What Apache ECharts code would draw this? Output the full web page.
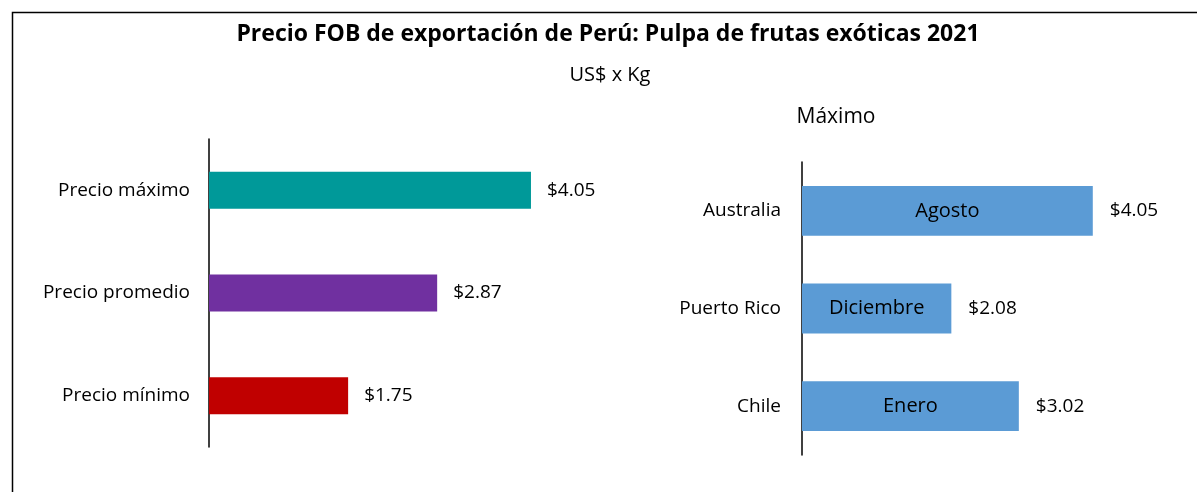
<!DOCTYPE html>
<html>
<head>
<meta charset="utf-8">
<script src="https://cdn.jsdelivr.net/npm/echarts@6/dist/echarts.min.js"></script>
<style>
  html, body { margin: 0; padding: 0; background: #fff; }
  #chart { width: 1197px; height: 492px; }
</style>
</head>
<body>
<div id="chart"></div>
<script>
// precios generales
const priceCats = ['Precio máximo', 'Precio promedio', 'Precio mínimo']
const priceVals = [4.05, 2.87, 1.75]
const priceColors = ['#009999', '#7030A0', '#C00000']
// máximo por país
const countryCats = ['Australia', 'Puerto Rico', 'Chile']
const countryVals = [4.05, 2.08, 3.02]
const countryMonths = ['Agosto', 'Diciembre', 'Enero']

const font = '"Open Sans", Lato, sans-serif'
const money = v => '$' + v.toFixed(2)

const myChart = echarts.init(document.getElementById('chart'), null, { renderer: 'canvas' })

const option = {
  animation: false,
  textStyle: { fontFamily: font },
  graphic: [
    {
      type: 'rect',
      shape: { x: 12.5, y: 12.5, width: 1200, height: 500 },
      style: { fill: 'none', stroke: '#000', lineWidth: 1.5 },
      silent: true,
    },
  ],
  title: [
    {
      text: 'Precio FOB de exportación de Perú: Pulpa de frutas exóticas 2021',
      left: 603,
      top: 18,
      textAlign: 'center',
      textStyle: { fontSize: 23, fontWeight: 'bold', color: '#000', fontFamily: font },
    },
    {
      text: 'US$ x Kg',
      left: 605,
      top: 60,
      textAlign: 'center',
      textStyle: { fontSize: 20, fontWeight: 'normal', color: '#000', fontFamily: font },
    },
    {
      text: 'Máximo',
      left: 831,
      top: 102,
      textAlign: 'center',
      textStyle: { fontSize: 21, fontWeight: 'normal', color: '#000', fontFamily: font },
    },
  ],
  grid: [
    { left: 209, top: 139, width: 397.5, height: 308 },
    { left: 802, top: 162, width: 359, height: 293 },
  ],
  xAxis: [
    { gridIndex: 0, type: 'value', min: 0, max: 5, show: false },
    { gridIndex: 1, type: 'value', min: 0, max: 5, show: false },
  ],
  yAxis: [
    {
      gridIndex: 0,
      type: 'category',
      data: priceCats,
      inverse: true,
      axisLine: { lineStyle: { color: '#000', width: 1.5 } },
      axisTick: { show: false },
      axisLabel: { color: '#000', fontSize: 19, margin: 19, fontFamily: font },
    },
    {
      gridIndex: 1,
      type: 'category',
      data: countryCats,
      inverse: true,
      axisLine: { lineStyle: { color: '#000', width: 1.5 } },
      axisTick: { show: false },
      axisLabel: { color: '#000', fontSize: 19, margin: 21, fontFamily: font },
    },
  ],
  series: [
    {
      type: 'bar',
      xAxisIndex: 0,
      yAxisIndex: 0,
      barCategoryGap: '64%',
      data: priceVals.map((v, i) => ({ value: v, itemStyle: { color: priceColors[i] } })),
      label: {
        show: true,
        position: 'right',
        distance: 16,
        color: '#000',
        fontSize: 19,
        fontFamily: font,
        formatter: p => money(p.value),
      },
    },
    {
      type: 'bar',
      xAxisIndex: 1,
      yAxisIndex: 1,
      barCategoryGap: '49%',
      itemStyle: { color: '#5B9BD5' },
      data: countryVals,
      label: {
        show: true,
        position: 'inside',
        color: '#000',
        fontSize: 20,
        fontFamily: font,
        formatter: p => countryMonths[p.dataIndex],
      },
    },
    {
      // solo para la etiqueta del valor
      type: 'bar',
      xAxisIndex: 1,
      yAxisIndex: 1,
      barCategoryGap: '49%',
      barGap: '-100%',
      itemStyle: { color: 'transparent' },
      data: countryVals,
      label: {
        show: true,
        position: 'right',
        distance: 17,
        color: '#000',
        fontSize: 19,
        fontFamily: font,
        formatter: p => money(p.value),
      },
      silent: true,
    },
  ],
}

myChart.setOption(option)
</script>
</body>
</html>
